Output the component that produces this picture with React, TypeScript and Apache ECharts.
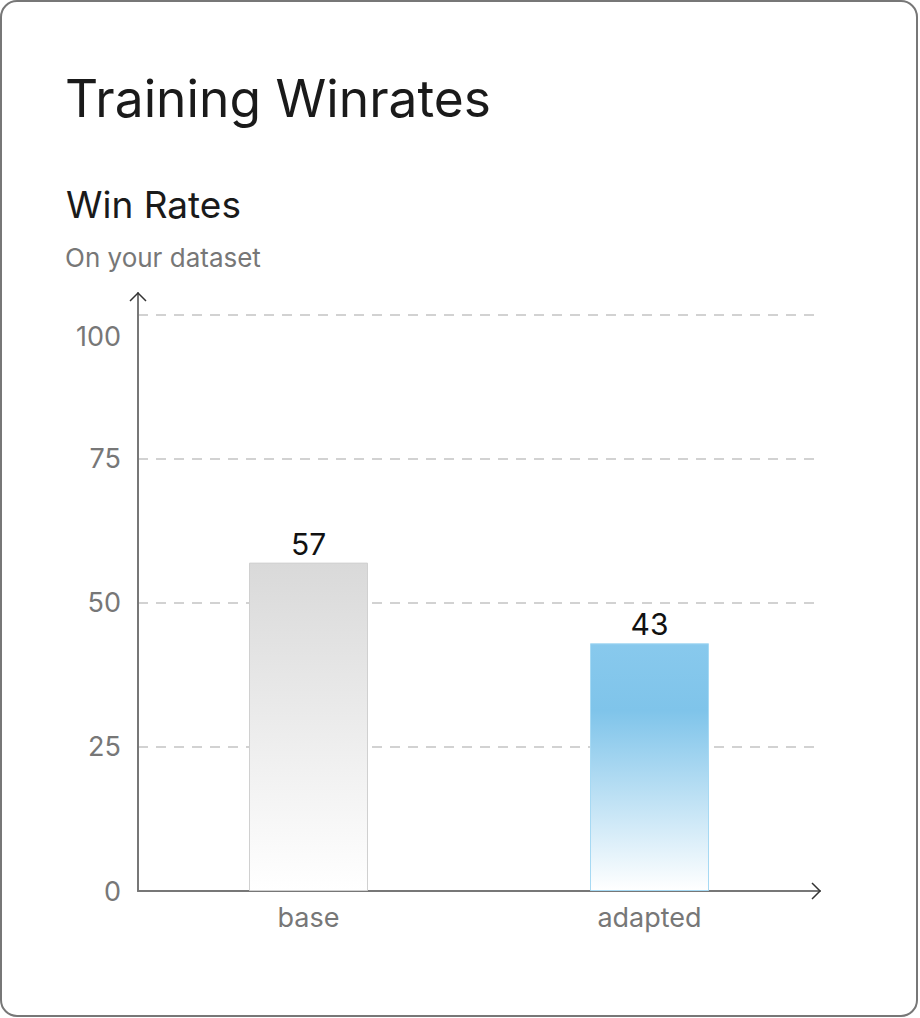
import React, { useEffect, useRef } from "react";
import * as echarts from "echarts";

const categories = ["base", "adapted"];
const winRates = [57, 43];
const yTicks = [0, 25, 50, 75, 100];
const titleText = "Training Winrates";
const subTitleText = "Win Rates";
const captionText = "On your dataset";

const W = 920;
const H = 1018;
const GRID = { left: 138, right: 100, top: 293, bottom: 127 };
const FONT = "Inter, 'Noto Sans', sans-serif";

export default function App() {
  const ref = useRef<HTMLDivElement>(null);
  useEffect(() => {
    document.body.style.margin = "0";
    if (!ref.current) return;
    const chart = echarts.init(ref.current, undefined, { renderer: "svg" });
    const axisRight = W - GRID.right;
    const axisBottom = H - GRID.bottom;
    const yMax = 103.8;
    chart.setOption({
      animation: false,
      backgroundColor: "transparent",
      textStyle: { fontFamily: FONT },
      graphic: [
        {
          type: "rect",
          z: -10,
          silent: true,
          shape: { x: 1, y: 1, width: 916, height: 1015, r: 16 },
          style: { fill: "#ffffff", stroke: "#777777", lineWidth: 2 },
        },
        {
          type: "polyline",
          z: 100,
          shape: {
            points: [
              [GRID.left - 8, GRID.top + 8],
              [GRID.left, GRID.top],
              [GRID.left + 8, GRID.top + 8],
            ],
          },
          style: { stroke: "#333333", lineWidth: 1.5, fill: "none" },
        },
        {
          type: "polyline",
          z: 100,
          shape: {
            points: [
              [axisRight - 8, axisBottom - 8],
              [axisRight, axisBottom],
              [axisRight - 8, axisBottom + 8],
            ],
          },
          style: { stroke: "#333333", lineWidth: 1.5, fill: "none" },
        },
      ],
      title: [
        {
          text: titleText,
          left: 60,
          top: 67,
          textStyle: { fontFamily: FONT, fontSize: 51.5, fontWeight: 400, color: "#1a1a1a" },
        },
        {
          text: subTitleText,
          left: 61,
          top: 181,
          textStyle: { fontFamily: FONT, fontSize: 37, fontWeight: 400, color: "#1a1a1a" },
        },
        {
          text: captionText,
          left: 60,
          top: 239,
          textStyle: { fontFamily: FONT, fontSize: 26, fontWeight: 400, color: "#777777" },
        },
      ],
      grid: { ...GRID, containLabel: false },
      xAxis: {
        type: "category",
        data: categories,
        axisLine: { show: true, lineStyle: { color: "#777777", width: 2 } },
        axisTick: { show: false },
        axisLabel: { color: "#777777", fontSize: 27, margin: 13, fontFamily: FONT },
        splitLine: { show: false },
      },
      yAxis: {
        type: "value",
        min: 0,
        max: yMax,
        interval: 25,
        axisLine: { show: true, lineStyle: { color: "#777777", width: 2 } },
        axisTick: { show: false },
        axisLabel: {
          color: "#777777",
          fontSize: 27,
          margin: 17,
          fontFamily: FONT,
          formatter: (v: number) => {
            if (!yTicks.includes(v)) return "";
            if (v === 100) return "{top|100}";
            return String(v);
          },
          rich: {
            top: { color: "#777777", fontSize: 27, fontFamily: FONT, padding: [44, 0, 0, 0] },
          },
        },
        splitLine: {
          show: true,
          showMinLine: false,
          showMaxLine: false,
          lineStyle: { color: "#c4c4c4", type: [10, 8], width: 1.5 },
        },
      },
      series: [
        {
          type: "bar",
          barWidth: 119,
          data: winRates.map((v, i) => ({
            value: v,
            itemStyle:
              i === 0
                ? {
                    color: new echarts.graphic.LinearGradient(0, 0, 0, 1, [
                      { offset: 0, color: "#d9d9d9" },
                      { offset: 1, color: "#ffffff" },
                    ]),
                    borderColor: "#d0d0d0",
                    borderWidth: 1,
                  }
                : {
                    color: new echarts.graphic.LinearGradient(0, 0, 0, 1, [
                      { offset: 0, color: "#88c9ed" },
                      { offset: 0.27, color: "#7fc4ea" },
                      { offset: 1, color: "#ffffff" },
                    ]),
                    borderColor: "#a6d9f3",
                    borderWidth: 1,
                  },
          })),
          label: {
            show: true,
            position: "top",
            distance: 4,
            color: "#111111",
            fontSize: 30,
            fontFamily: FONT,
          },
        },
      ],
    });
    return () => chart.dispose();
  }, []);
  return <div ref={ref} style={{ width: W, height: H }} />;
}
